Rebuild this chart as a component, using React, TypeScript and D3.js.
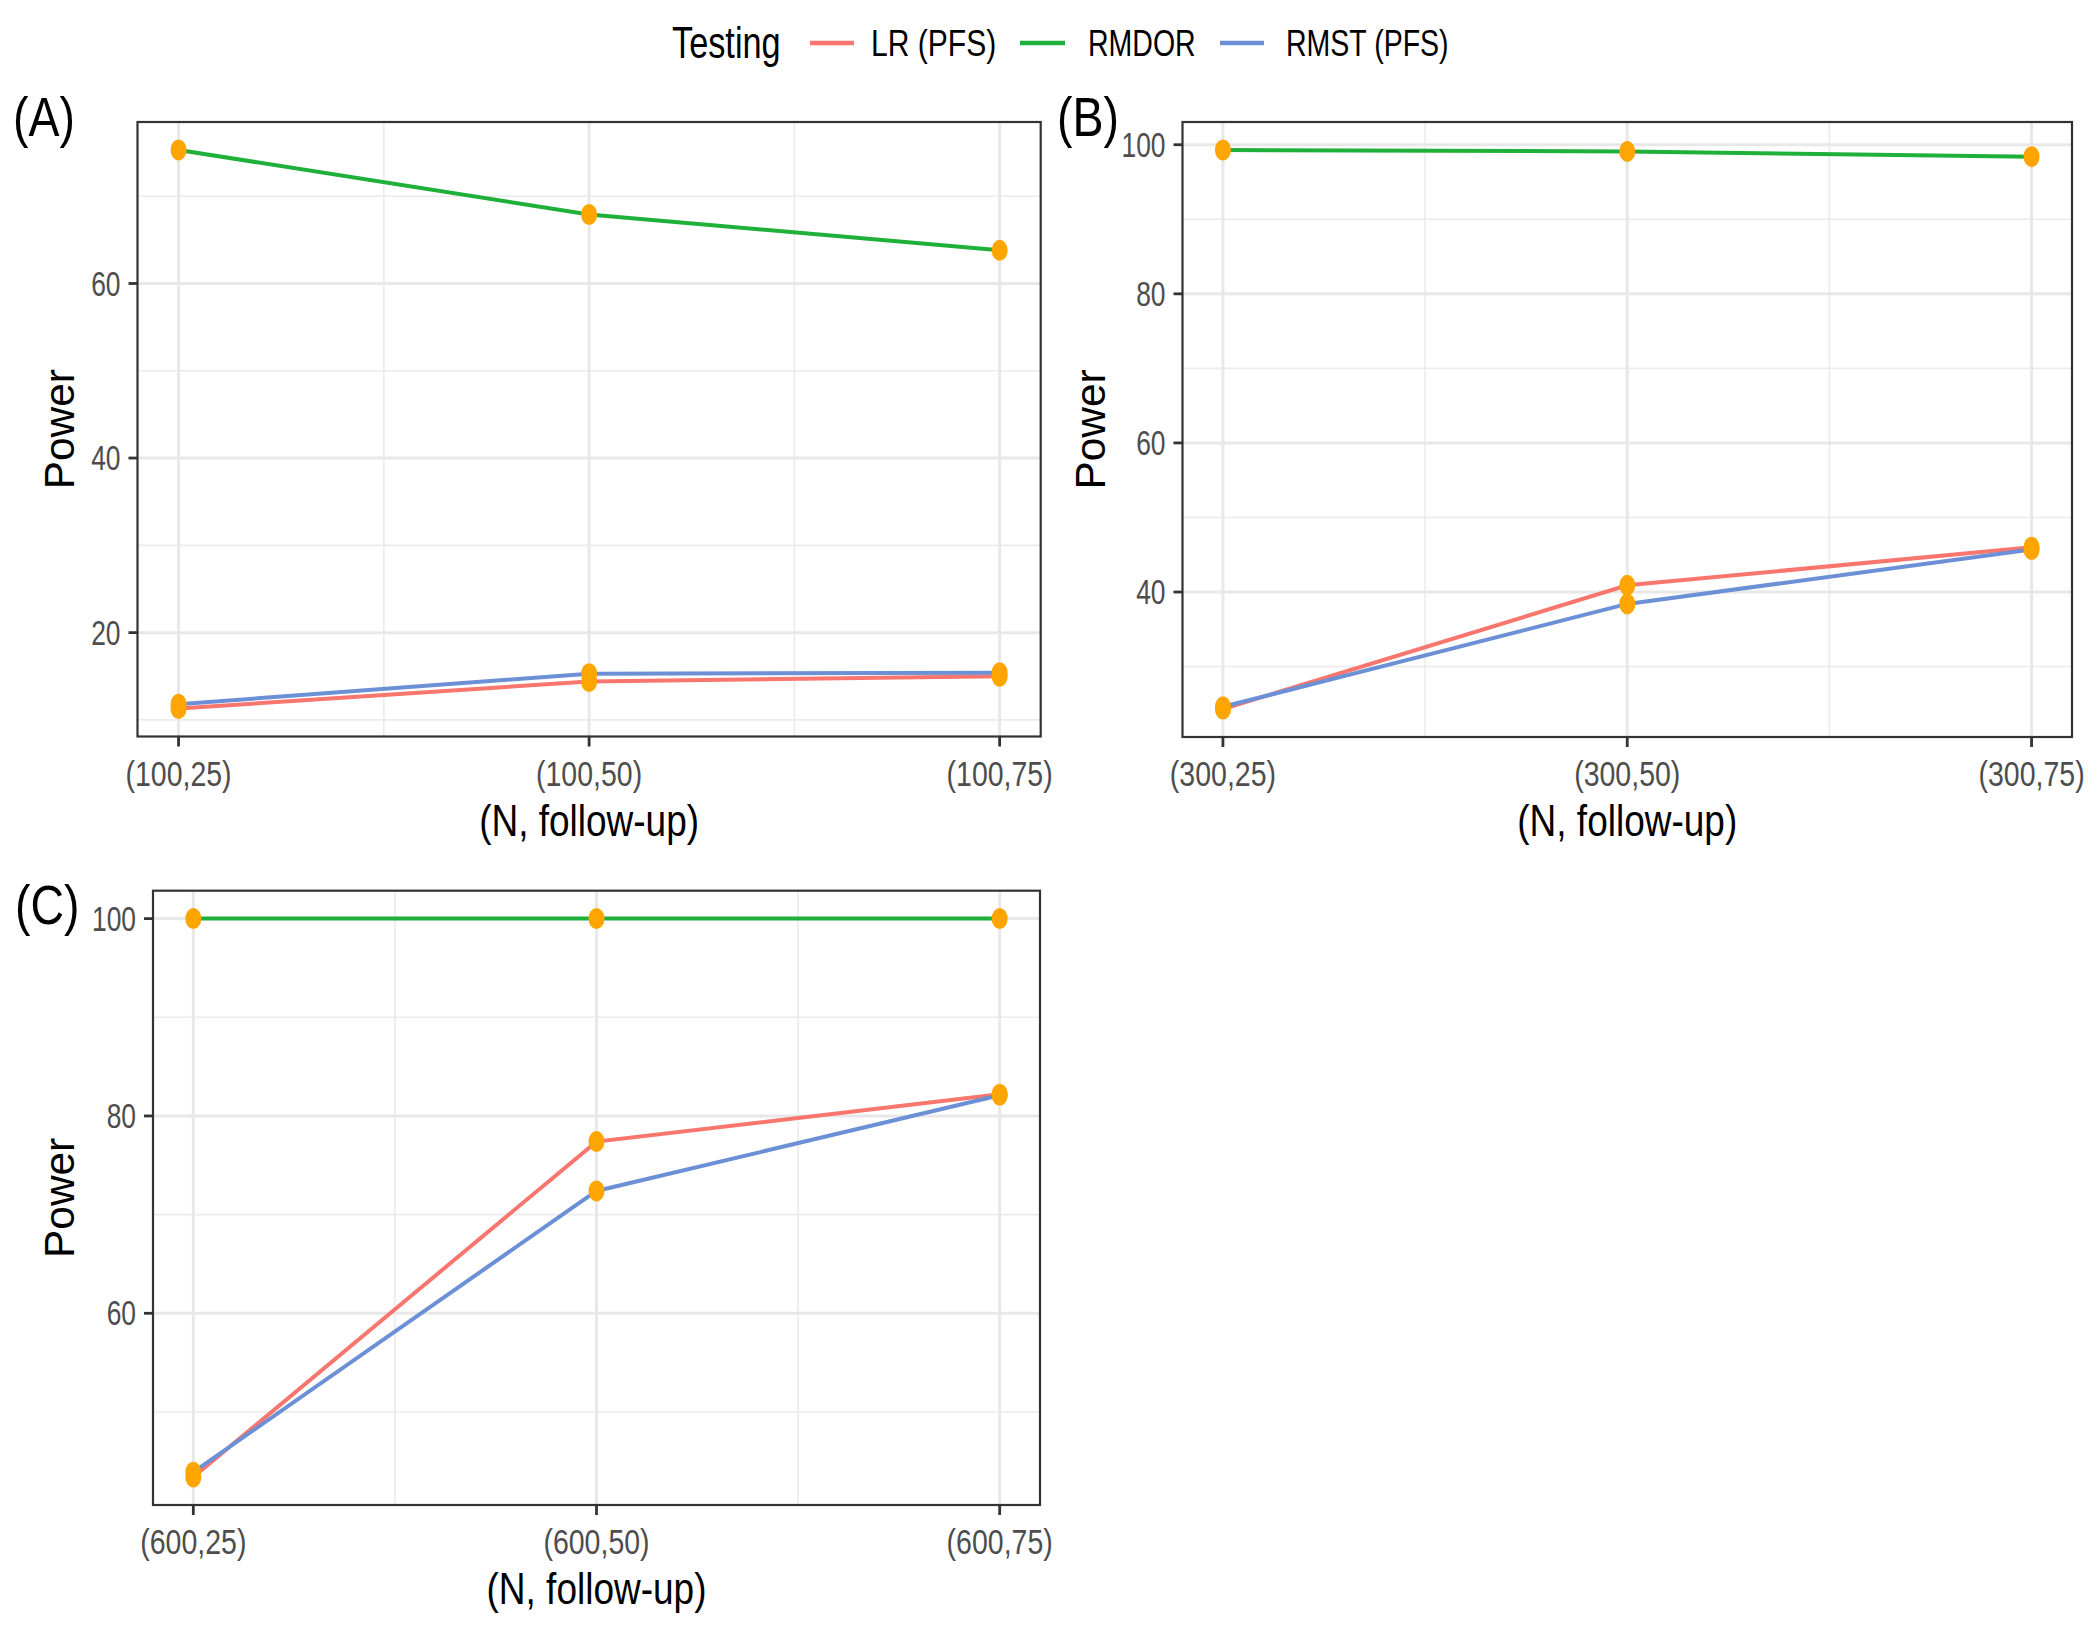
import React from "react";
import * as d3 from "d3";

// ---------- data ----------
const seriesNames = ["LR (PFS)", "RMDOR", "RMST (PFS)"];
const seriesColors = ["#F8766D", "#1FB03A", "#6B90D6"];

const categoriesA = ["(100,25)", "(100,50)", "(100,75)"];
const lrA = [11.3, 14.4, 15.0];
const rmdorA = [75.3, 67.9, 63.8];
const rmstA = [11.8, 15.3, 15.4];
const yTicksA = [20, 40, 60];
const yMinorA = [10, 30, 50, 70];

const categoriesB = ["(300,25)", "(300,50)", "(300,75)"];
const lrB = [24.3, 40.9, 46.0];
const rmdorB = [99.3, 99.1, 98.4];
const rmstB = [24.6, 38.4, 45.7];
const yTicksB = [40, 60, 80, 100];
const yMinorB = [30, 50, 70, 90];

const categoriesC = ["(600,25)", "(600,50)", "(600,75)"];
const lrC = [43.4, 77.4, 82.2];
const rmdorC = [100, 100, 100];
const rmstC = [43.9, 72.4, 82.1];
const yTicksC = [60, 80, 100];
const yMinorC = [50, 70, 90];

const panelTags = ["(A)", "(B)", "(C)"];
const xTitle = "(N, follow-up)";
const yTitle = "Power";
const legendTitle = "Testing";

// ---------- layout ----------
const W = 2100;
const H = 1634;
const FONT = "'Liberation Sans', Arial, Helvetica, sans-serif";

type Box = { left: number; right: number; top: number; bottom: number };

const panels = [
  {
    tag: panelTags[0],
    box: { left: 137.5, right: 1040.7, top: 122, bottom: 736.5 },
    cats: categoriesA,
    series: [lrA, rmdorA, rmstA],
    ticks: yTicksA,
    minor: yMinorA,
    tagX: 13,
    tagY: 136,
    yTitleX: 73.5,
  },
  {
    tag: panelTags[1],
    box: { left: 1182.5, right: 2072, top: 122, bottom: 737 },
    cats: categoriesB,
    series: [lrB, rmdorB, rmstB],
    ticks: yTicksB,
    minor: yMinorB,
    tagX: 1057,
    tagY: 136,
    yTitleX: 1105,
  },
  {
    tag: panelTags[2],
    box: { left: 153, right: 1040, top: 890.7, bottom: 1505 },
    cats: categoriesC,
    series: [lrC, rmdorC, rmstC],
    ticks: yTicksC,
    minor: yMinorC,
    tagX: 15,
    tagY: 924,
    yTitleX: 73.5,
  },
];

function Panel({ p }: { p: (typeof panels)[number] }) {
  const b: Box = p.box;
  const x = d3.scalePoint<string>().domain(p.cats).range([b.left, b.right]).padding(0.1);
  const all = p.series.flat();
  const mn = d3.min(all) as number;
  const mx = d3.max(all) as number;
  const pad = (mx - mn) * 0.05;
  const y = d3.scaleLinear().domain([mn - pad, mx + pad]).range([b.bottom, b.top]);
  const step = x.step();
  const xMinor = p.cats.slice(0, -1).map((c) => (x(c) as number) + step / 2);
  const line = d3
    .line<number>()
    .x((_, i) => x(p.cats[i]) as number)
    .y((d) => y(d));
  const cx = (b.left + b.right) / 2;
  const cy = (b.top + b.bottom) / 2;
  return (
    <g>
      <rect x={b.left} y={b.top} width={b.right - b.left} height={b.bottom - b.top} fill="#FFFFFF" />
      {/* minor grid */}
      {p.minor.map((v) => (
        <line key={"ym" + v} x1={b.left} x2={b.right} y1={y(v)} y2={y(v)} stroke="#EBEBEB" strokeWidth={1.6} />
      ))}
      {xMinor.map((v, i) => (
        <line key={"xm" + i} x1={v} x2={v} y1={b.top} y2={b.bottom} stroke="#EBEBEB" strokeWidth={1.6} />
      ))}
      {/* major grid */}
      {p.ticks.map((v) => (
        <line key={"yM" + v} x1={b.left} x2={b.right} y1={y(v)} y2={y(v)} stroke="#E8E8E8" strokeWidth={3} />
      ))}
      {p.cats.map((c) => (
        <line key={"xM" + c} x1={x(c)} x2={x(c)} y1={b.top} y2={b.bottom} stroke="#E8E8E8" strokeWidth={3} />
      ))}
      {/* lines */}
      {p.series.map((s, i) => (
        <path key={"l" + i} d={line(s) || ""} fill="none" stroke={seriesColors[i]} strokeWidth={4} />
      ))}
      {/* points */}
      {p.series.map((s, i) =>
        s.map((v, j) => (
          <ellipse key={"p" + i + "-" + j} cx={x(p.cats[j])} cy={y(v)} rx={8} ry={10.5} fill="#FFA500" />
        ))
      )}
      {/* border */}
      <rect
        x={b.left}
        y={b.top}
        width={b.right - b.left}
        height={b.bottom - b.top}
        fill="none"
        stroke="#333333"
        strokeWidth={2.2}
      />
      {/* y axis ticks */}
      {p.ticks.map((v) => (
        <g key={"yt" + v}>
          <line x1={b.left - 9} x2={b.left} y1={y(v)} y2={y(v)} stroke="#333333" strokeWidth={2.8} />
          <text
            transform={`translate(${b.left - 17},${y(v) + 12.2}) scale(0.88,1.15)`}
            textAnchor="end"
            fontFamily={FONT}
            fontSize={30}
            fill="#4D4D4D"
          >
            {v}
          </text>
        </g>
      ))}
      {/* x axis ticks */}
      {p.cats.map((c) => (
        <g key={"xt" + c}>
          <line x1={x(c)} x2={x(c)} y1={b.bottom} y2={b.bottom + 10} stroke="#333333" strokeWidth={2.8} />
          <text
            transform={`translate(${x(c)},${b.bottom + 49}) scale(0.95,1.18)`}
            textAnchor="middle"
            fontFamily={FONT}
            fontSize={30}
            fill="#4D4D4D"
          >
            {c}
          </text>
        </g>
      ))}
      {/* titles */}
      <text
        transform={`translate(${cx},${b.bottom + 99}) scale(1.0,1.2)`}
        textAnchor="middle"
        fontFamily={FONT}
        fontSize={37}
        fill="#000000"
      >
        {xTitle}
      </text>
      <text
        transform={`translate(${p.yTitleX},${cy}) rotate(-90) scale(1.06,1.05)`}
        textAnchor="middle"
        fontFamily={FONT}
        fontSize={40}
        fill="#000000"
      >
        {yTitle}
      </text>
      <text
        transform={`translate(${p.tagX},${p.tagY}) scale(0.93,1.1)`}
        fontFamily={FONT}
        fontSize={50}
        fill="#000000"
      >
        {p.tag}
      </text>
    </g>
  );
}

const legendKeys = [
  { x0: 810, x1: 854, tx: 871 },
  { x0: 1020, x1: 1065, tx: 1088 },
  { x0: 1220, x1: 1264, tx: 1286 },
];

export default function App() {
  return (
    <svg
      width={W}
      height={H}
      viewBox={`0 0 ${W} ${H}`}
      style={{ position: "absolute", left: 0, top: 0, background: "#FFFFFF" }}
    >
      <rect x={0} y={0} width={W} height={H} fill="#FFFFFF" />
      {/* legend */}
      <text
        transform={`translate(672,58) scale(0.98,1.25)`}
        fontFamily={FONT}
        fontSize={35}
        fill="#000000"
      >
        {legendTitle}
      </text>
      {seriesNames.map((n, i) => (
        <g key={n}>
          <line
            x1={legendKeys[i].x0}
            x2={legendKeys[i].x1}
            y1={43}
            y2={43}
            stroke={seriesColors[i]}
            strokeWidth={4.5}
          />
          <text
            transform={`translate(${legendKeys[i].tx},56) scale(${i === 0 ? 0.97 : 0.92},1.2)`}
            fontFamily={FONT}
            fontSize={31}
            fill="#000000"
          >
            {n}
          </text>
        </g>
      ))}
      {panels.map((p) => (
        <Panel key={p.tag} p={p} />
      ))}
    </svg>
  );
}
